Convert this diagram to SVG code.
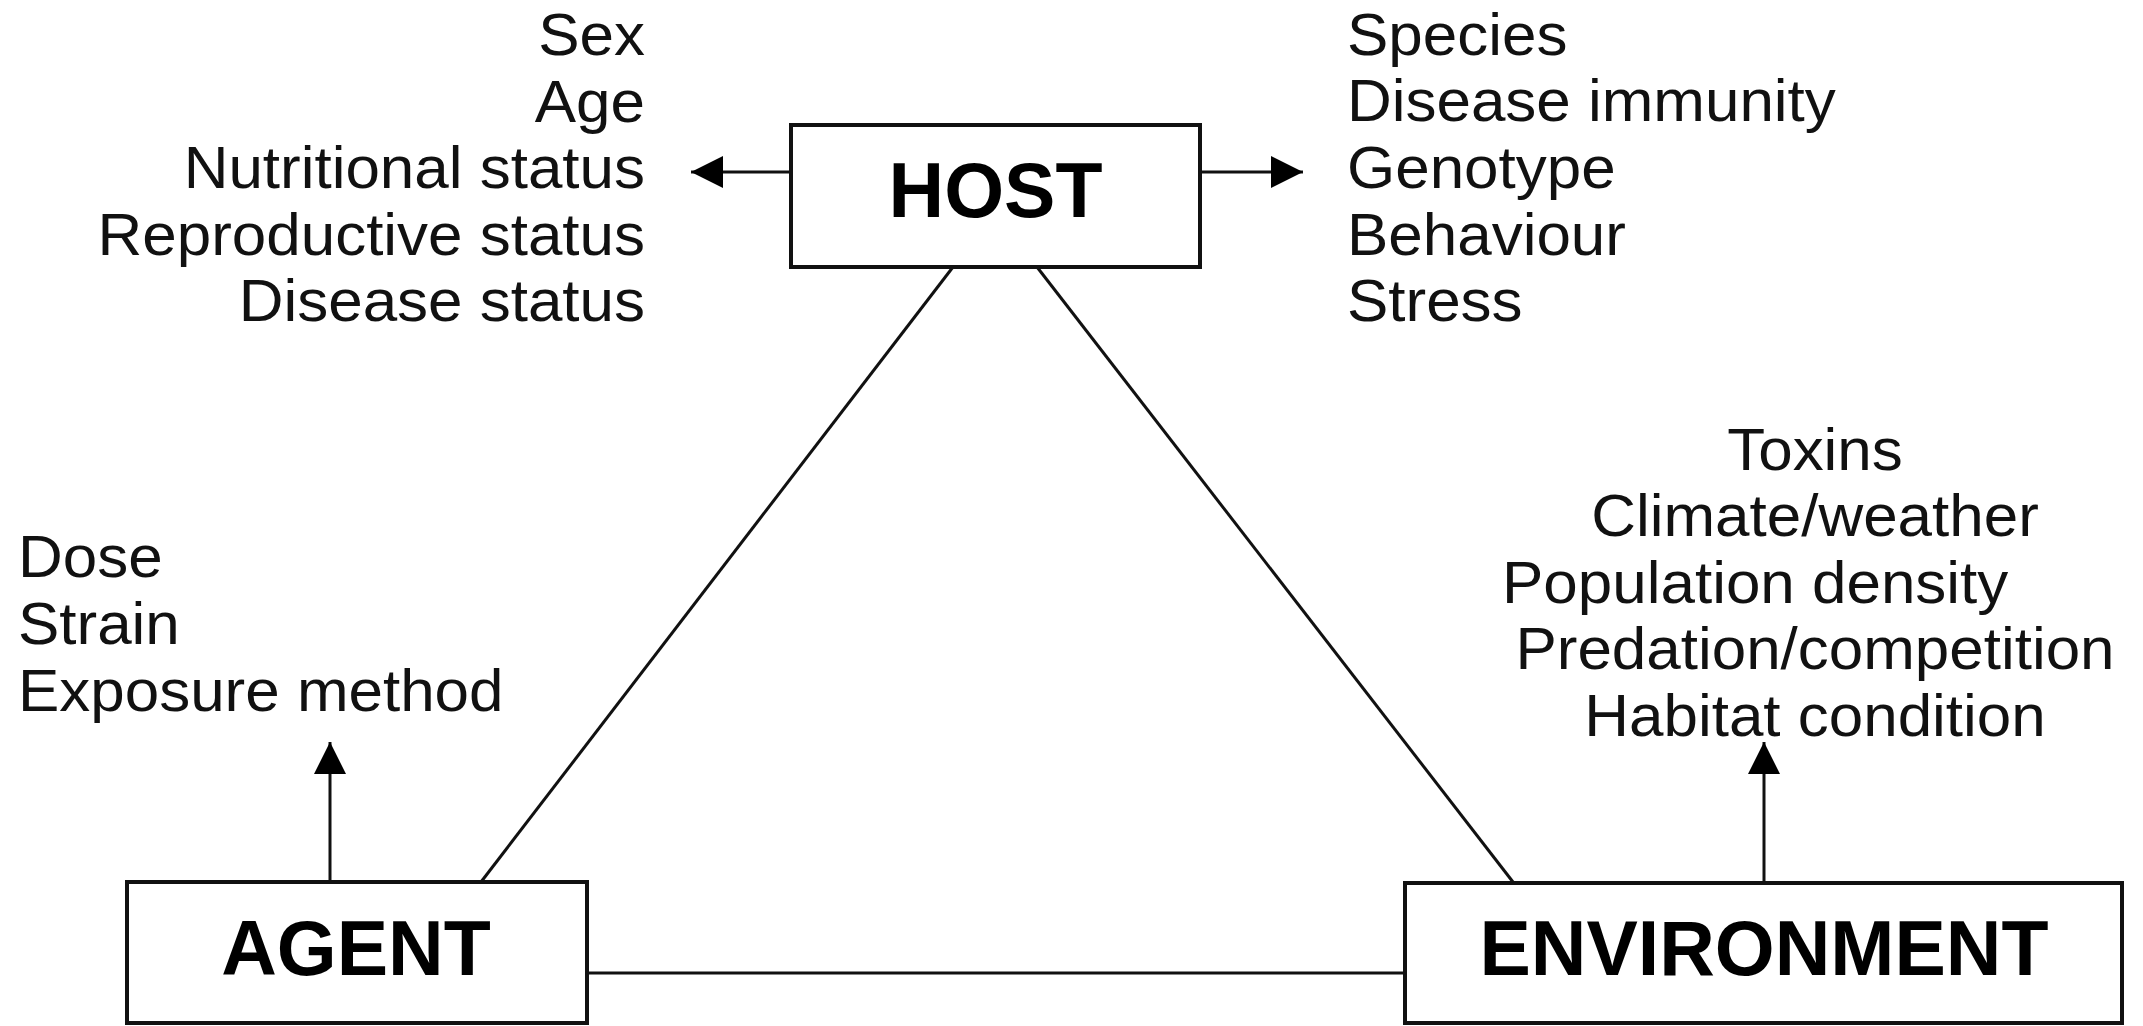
<svg xmlns="http://www.w3.org/2000/svg" width="2143" height="1026" viewBox="0 0 2143 1026">
<style>
.box{fill:#fff;stroke:#111;stroke-width:4}
.ln{fill:none;stroke:#111;stroke-width:3}
.lbl{font-family:"Liberation Sans",Arial,sans-serif;font-size:59px;fill:#111}
.ttl{font-family:"Liberation Sans",Arial,sans-serif;font-size:77px;font-weight:bold;fill:#000;text-anchor:middle}
</style>
<defs>
<marker id="ah" markerUnits="userSpaceOnUse" markerWidth="32" markerHeight="32" viewBox="0 0 30 30" refX="30" refY="15" orient="auto">
<path d="M0,0 L30,15 L0,30 Z" fill="#000"/>
</marker>
</defs>
<rect width="2143" height="1026" fill="#fff"/>
<g id="connectors">
<line class="ln" x1="953" y1="267" x2="481" y2="882"/>
<line class="ln" x1="1037" y1="267" x2="1513" y2="882"/>
<line class="ln" x1="587" y1="973" x2="1405" y2="973"/>
<line class="ln" x1="791" y1="172" x2="691" y2="172" marker-end="url(#ah)"/>
<line class="ln" x1="1200" y1="172" x2="1303" y2="172" marker-end="url(#ah)"/>
<line class="ln" x1="330" y1="882" x2="330" y2="742" marker-end="url(#ah)"/>
<line class="ln" x1="1764" y1="882" x2="1764" y2="742" marker-end="url(#ah)"/>
</g>
<g id="host">
<rect class="box" x="791" y="125" width="409" height="142"/>
<text class="ttl" x="995.5" y="217">HOST</text>
</g>
<g id="agent">
<rect class="box" x="127" y="882" width="460" height="141"/>
<text class="ttl" x="356" y="975">AGENT</text>
</g>
<g id="environment">
<rect class="box" x="1405" y="883" width="717" height="140"/>
<text class="ttl" x="1764" y="975">ENVIRONMENT</text>
</g>
<g id="host-left-factors" class="lbl" text-anchor="end" transform="translate(645 0) scale(1.05 1)">
<text x="0" y="55">Sex</text>
<text x="0" y="122">Age</text>
<text x="0" y="188">Nutritional status</text>
<text x="0" y="255">Reproductive status</text>
<text x="0" y="321">Disease status</text>
</g>
<g id="host-right-factors" class="lbl" transform="translate(1347 0) scale(1.05 1)">
<text x="0" y="55">Species</text>
<text x="0" y="121">Disease immunity</text>
<text x="0" y="188">Genotype</text>
<text x="0" y="255">Behaviour</text>
<text x="0" y="321">Stress</text>
</g>
<g id="agent-factors" class="lbl" transform="translate(18 0) scale(1.05 1)">
<text x="0" y="577">Dose</text>
<text x="0" y="644">Strain</text>
<text x="0" y="711">Exposure method</text>
</g>
<g id="environment-factors" class="lbl" text-anchor="middle" transform="translate(1815 0) scale(1.05 1)">
<text x="0" y="470">Toxins</text>
<text x="0" y="536">Climate/weather</text>
<text x="-57" y="603">Population density</text>
<text x="0" y="669">Predation/competition</text>
<text x="0" y="736">Habitat condition</text>
</g>
</svg>
